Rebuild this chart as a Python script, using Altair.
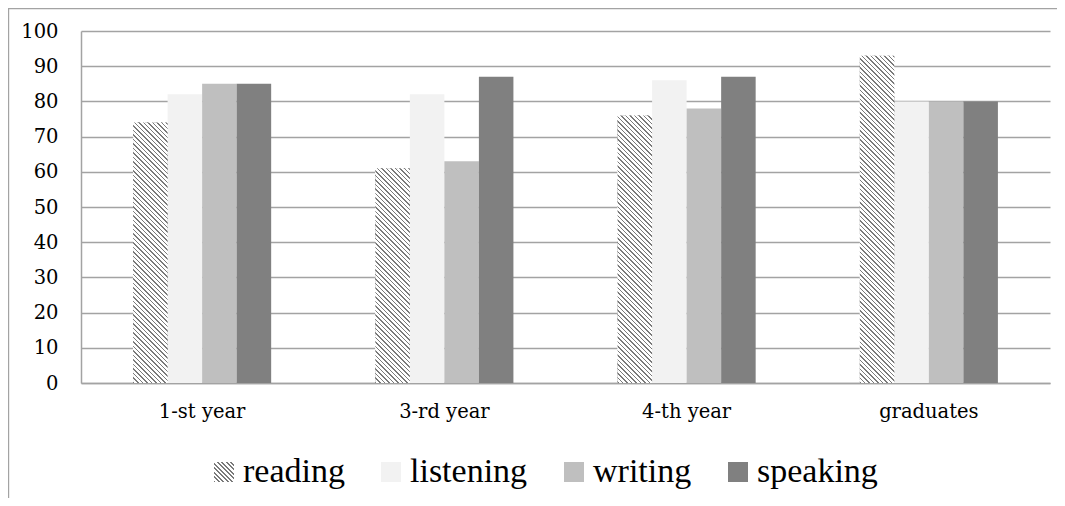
import json
import altair as alt

# ---------------- data ----------------
categories = ["1-st year", "3-rd year", "4-th year", "graduates"]
series = ["reading", "listening", "writing", "speaking"]
reading = [74, 61, 76, 93]
listening = [82, 82, 86, 80]
writing = [85, 63, 78, 80]
speaking = [85, 87, 87, 80]
y_ticks = [0, 10, 20, 30, 40, 50, 60, 70, 80, 90, 100]
solid_colors = ["#f2f2f2", "#bfbfbf", "#808080"]  # listening, writing, speaking

# ---------------- layout / style ----------------
W, H = 969, 352
PAD_INNER = 0.43
FONT = "Liberation Serif"
AXFONT = "DejaVu Serif"
GRID = "#a3a3a3"
HATCH_PERIOD = 4.5
HATCH_DARK = 1.6
HATCH_COLOR = "#7a7a7a"

step = W / len(categories)
bar_w = step * (1 - PAD_INNER) / len(series)
px_per_unit = H / 100.0


def hatch_gradient(w, h):
    """Linear gradient with hard stops that draws '\\' stripes in a w x h box."""
    r = h / w
    s = (w + h) / (w * (1 + r * r))
    total = w + h
    stops = []
    pos = 0.0
    while pos < total:
        a = round(pos / total, 5)
        b = round(min((pos + HATCH_DARK) / total, 1), 5)
        c = round(min((pos + HATCH_PERIOD) / total, 1), 5)
        stops += [
            {"offset": a, "color": "#ffffff"},
            {"offset": a, "color": HATCH_COLOR},
            {"offset": b, "color": HATCH_COLOR},
            {"offset": b, "color": "#ffffff"},
            {"offset": c, "color": "#ffffff"},
        ]
        pos += HATCH_PERIOD
    return {"gradient": "linear", "x1": 0, "y1": 1,
            "x2": round(s, 6), "y2": round(1 - s * r, 6), "stops": stops}


series_values = [reading, listening, writing, speaking]
records = []
for i, c in enumerate(categories):
    for sname, vals in zip(series, series_values):
        records.append({"category": c, "series": sname, "value": vals[i]})

hatch_records = [
    {"category": c, "series": "reading", "value": v,
     "grad": hatch_gradient(bar_w, v * px_per_unit)}
    for c, v in zip(categories, reading)
]

legend_grad_expr = json.dumps(hatch_gradient(20, 20))

x_enc = alt.X(
    "category:N", sort=categories,
    scale=alt.Scale(paddingInner=PAD_INNER, paddingOuter=PAD_INNER / 2),
    axis=alt.Axis(title=None, labelAngle=0, ticks=False, tickSize=0,
                  labelFont=AXFONT, labelFontSize=19.5, labelColor="#000000",
                  labelPadding=19, domainColor=GRID, domainWidth=1.5, grid=False),
)
xo_enc = alt.XOffset("series:N", sort=series,
                     scale=alt.Scale(domain=series, paddingInner=0, paddingOuter=0))
y_enc = alt.Y(
    "value:Q", scale=alt.Scale(domain=[0, 100], nice=False),
    axis=alt.Axis(title=None, values=y_ticks, ticks=False, tickSize=0,
                  labelFont=AXFONT, labelFontSize=19.5, labelColor="#000000",
                  labelPadding=23, grid=True, gridColor=GRID, gridWidth=1.5,
                  domainColor=GRID, domainWidth=1.5),
)

bars = alt.Chart(alt.Data(values=records)).mark_bar().encode(
    x=x_enc, xOffset=xo_enc, y=y_enc,
    color=alt.Color(
        "series:N", sort=series,
        scale=alt.Scale(domain=series,
                        range=[alt.ExprRef(expr=legend_grad_expr)] + solid_colors),
        legend=alt.Legend(
            title=None, orient="none", legendX=126, legendY=424,
            direction="horizontal", symbolType="square", symbolSize=400,
            symbolStrokeWidth=0, labelFont=FONT, labelFontSize=34,
            labelColor="#000000", labelOffset=2, columnPadding=29,
        ),
    ),
)

hatch = alt.Chart(alt.Data(values=hatch_records)).mark_bar().encode(
    x=x_enc, xOffset=xo_enc, y=y_enc,
    fill=alt.Fill("grad:N", scale=None),
)

frame_v = alt.Chart(alt.Data(values=[{}])).mark_rule(color=GRID, strokeWidth=1.2).encode(
    x=alt.value(-72.4), y=alt.value(-23), y2=alt.value(467)
)
frame_h = alt.Chart(alt.Data(values=[{}])).mark_rule(color=GRID, strokeWidth=1.2).encode(
    x=alt.value(-73), x2=alt.value(W + 7), y=alt.value(-22.4)
)

chart = alt.layer(bars, hatch, frame_v, frame_h).properties(
    width=W, height=H,
    autosize=alt.AutoSizeParams(type="none"),
    padding={"left": 73, "top": 23, "right": 7, "bottom": 115},
    background="#ffffff",
).configure_view(stroke=None)

chart.save("out.html", embed_options={"renderer": "svg", "actions": False})
